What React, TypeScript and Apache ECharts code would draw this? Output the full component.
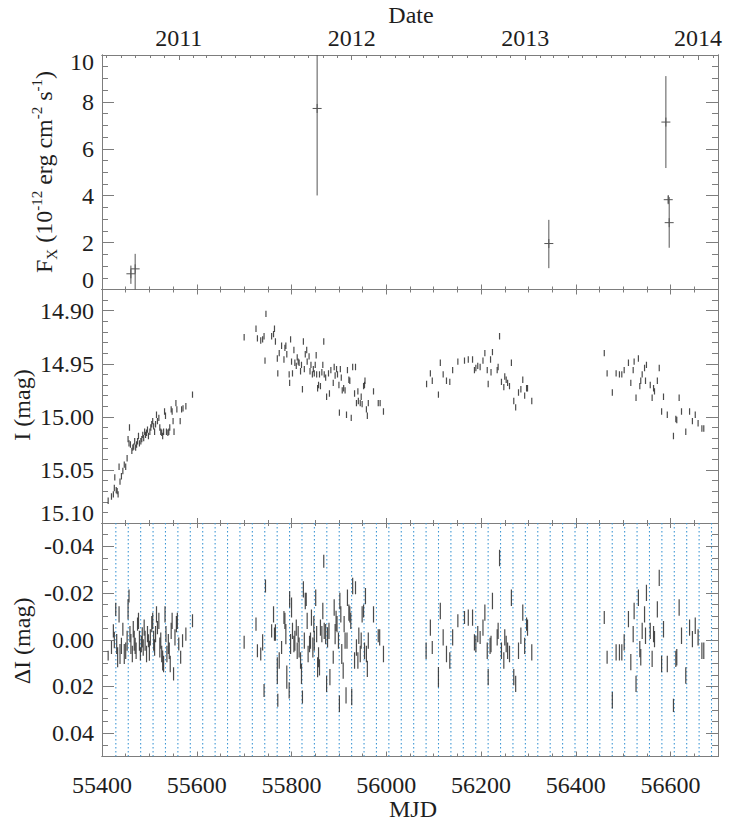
import React, { useEffect, useRef } from "react";
import * as echarts from "echarts";

// ---------- axes / ticks ----------
const MJD_MIN = 55400;
const MJD_MAX = 56700;
const X_MAJOR = [55400, 55600, 55800, 56000, 56200, 56400, 56600];
const X_MINOR_STEP = 50;
const YEAR_LABELS = ["2011", "2012", "2013", "2014"];
const YEAR_MJD = [55562, 55927, 56293, 56658];

const FX_MAJOR = [0, 2, 4, 6, 8, 10];
const I_MAJOR = [14.9, 14.95, 15.0, 15.05, 15.1];
const DI_MAJOR = [-0.04, -0.02, 0, 0.02, 0.04];

// ---------- X-ray flux (10^-12 erg cm^-2 s^-1) ----------
const XRAY_MJD = [55461, 55470, 55854, 56343, 56590, 56595, 56597];
const XRAY_FX = [0.67, 0.88, 7.72, 1.96, 7.14, 3.83, 2.85];
const XRAY_LO = [0.24, -0.17, 4.01, 0.91, 5.18, 3.67, 1.78];
const XRAY_HI = [1.02, 1.52, 11.5, 2.97, 9.1, 4.0, 3.94];

// ---------- I-band light curve [MJD, I mag] ----------
const I_ERR = 0.003;
const I_2010: [number, number][] = [
  [55413, 15.079], [55420, 15.075], [55424, 15.073], [55426, 15.067], [55427, 15.057], [55430, 15.069],
  [55432, 15.07], [55434, 15.073], [55436, 15.047], [55438, 15.061], [55441, 15.056], [55444, 15.051],
  [55447, 15.045], [55450, 15.047], [55453, 15.039], [55455, 15.021], [55457, 15.025], [55458, 15.01],
  [55460, 15.026], [55463, 15.032], [55465, 15.029], [55467, 15.028], [55469, 15.023], [55471, 15.029],
  [55473, 15.026], [55475, 15.023], [55477, 15.018], [55479, 15.025], [55482, 15.023], [55484, 15.021],
  [55486, 15.017], [55488, 15.02], [55490, 15.014], [55492, 15.017], [55494, 15.015], [55496, 15.012],
  [55498, 15.018], [55501, 15.014], [55503, 15.01], [55505, 15.007], [55507, 15.004], [55509, 15.009],
  [55511, 15.014], [55513, 15.007], [55515, 14.998], [55517, 15.004], [55520, 15.001], [55522, 15.01],
  [55524, 15.014], [55526, 15.015], [55528, 15.018], [55530, 15.014], [55532, 14.995], [55534, 14.999],
  [55536, 15.014], [55539, 15.015], [55541, 15.014], [55543, 15.01], [55546, 14.993], [55548, 14.995],
  [55550, 15.004], [55552, 15.014], [55556, 14.987], [55558, 14.993], [55565, 15.004], [55568, 14.993],
  [55571, 14.992], [55577, 14.99], [55591, 14.979],
];
const I_2011: [number, number][] = [
  [55700, 14.925], [55725, 14.917], [55728, 14.926], [55735, 14.928], [55739, 14.927], [55742, 14.924],
  [55744, 14.947], [55746, 14.903], [55758, 14.924], [55762, 14.922], [55764, 14.917], [55766, 14.929],
  [55770, 14.945], [55771, 14.959], [55774, 14.94], [55779, 14.933], [55784, 14.946], [55786, 14.935],
  [55788, 14.933], [55790, 14.941], [55795, 14.96], [55796, 14.968], [55798, 14.927], [55800, 14.948],
  [55802, 14.959], [55805, 14.937], [55807, 14.949], [55810, 14.952], [55812, 14.944], [55814, 14.948],
  [55816, 14.949], [55819, 14.957], [55821, 14.951], [55823, 14.974], [55825, 14.929], [55827, 14.955],
  [55829, 14.941], [55832, 14.937], [55833, 14.948], [55837, 14.943], [55839, 14.957], [55841, 14.951],
  [55844, 14.96], [55846, 14.955], [55848, 14.959], [55850, 14.951], [55852, 14.942], [55853, 14.96],
  [55855, 14.973], [55857, 14.97], [55859, 14.96], [55861, 14.971], [55864, 14.958], [55866, 14.951],
  [55868, 14.929], [55869, 14.96], [55872, 14.963], [55874, 14.981], [55878, 14.959], [55880, 14.978],
  [55883, 14.956], [55888, 14.968], [55890, 14.953], [55892, 14.961], [55895, 14.955], [55897, 14.96],
  [55900, 14.97], [55901, 14.996], [55903, 14.955], [55905, 14.963], [55907, 14.975], [55910, 14.973],
  [55913, 14.975], [55916, 14.998], [55918, 14.956], [55921, 14.965], [55923, 14.966], [55926, 15.001],
  [55929, 14.953], [55933, 14.978], [55935, 14.953], [55937, 14.987], [55940, 14.976], [55941, 14.985],
  [55945, 14.987], [55947, 14.981], [55949, 14.988], [55952, 14.971], [55954, 14.97], [55955, 14.966],
  [55958, 14.993], [55960, 14.999], [55962, 14.987], [55973, 14.976], [55983, 14.987], [55987, 14.987],
  [55994, 14.995],
];
const I_2012: [number, number][] = [
  [56085, 14.969], [56093, 14.959], [56097, 14.966], [56110, 14.979], [56114, 14.949], [56120, 14.96],
  [56127, 14.966], [56134, 14.967], [56140, 14.956], [56151, 14.948], [56165, 14.947], [56173, 14.946],
  [56182, 14.946], [56186, 14.956], [56189, 14.954], [56193, 14.952], [56198, 14.953], [56204, 14.947],
  [56208, 14.94], [56213, 14.956], [56215, 14.969], [56220, 14.946], [56221, 14.958], [56224, 14.939],
  [56234, 14.956], [56236, 14.953], [56239, 14.924], [56243, 14.967], [56248, 14.972], [56250, 14.962],
  [56253, 14.965], [56256, 14.968], [56260, 14.971], [56264, 14.949], [56269, 14.985], [56273, 14.991],
  [56279, 14.977], [56284, 14.974], [56288, 14.965], [56292, 14.98], [56296, 14.973], [56298, 14.973],
  [56307, 14.985],
];
const I_2013: [number, number][] = [
  [56460, 14.94], [56466, 14.959], [56477, 14.977], [56485, 14.959], [56492, 14.96], [56497, 14.96],
  [56502, 14.956], [56511, 14.949], [56516, 14.968], [56521, 14.956], [56523, 14.948], [56527, 14.982],
  [56532, 14.945], [56535, 14.971], [56537, 14.966], [56540, 14.96], [56545, 14.954], [56547, 14.966],
  [56549, 14.951], [56557, 14.97], [56561, 14.982], [56564, 14.973], [56566, 14.976], [56572, 14.966],
  [56576, 14.954], [56581, 14.995], [56585, 14.981], [56593, 14.998], [56606, 15.018], [56611, 15.002],
  [56613, 15.003], [56618, 14.982], [56623, 14.995], [56632, 15.014], [56640, 14.995], [56646, 15.004],
  [56652, 14.998], [56658, 15.006], [56666, 15.011], [56670, 15.011],
];

// ---------- detrended residuals [MJD, dI, err] ----------
const DI_2010: [number, number, number][] = [
  [55413, 0.0068, 0.0021], [55420, 0.0033, 0.0028], [55424, -0.0038, 0.0028], [55426, 0.0001, 0.0035],
  [55429, -0.013, 0.0028], [55431, 0.0018, 0.0043], [55433, 0.0075, 0.0043], [55436, -0.0109, 0.0035],
  [55438, 0.0061, 0.0043], [55441, 0.0026, 0.0035], [55444, -0.0045, 0.0028], [55447, 0.0061, 0.0043],
  [55450, 0.0047, 0.0035], [55453, 0.0004, 0.0043], [55455, -0.013, 0.0043], [55457, -0.0187, 0.0028],
  [55459, -0.0024, 0.0035], [55461, 0.0018, 0.0043], [55464, 0.0061, 0.0035], [55466, -0.0045, 0.0035],
  [55468, 0.0004, 0.0043], [55470, 0.0026, 0.0035], [55472, 0.0047, 0.0035], [55475, -0.0067, 0.0028],
  [55477, -0.0081, 0.0035], [55479, 0.0004, 0.0043], [55481, 0.0061, 0.0028], [55483, 0.0018, 0.0035],
  [55485, -0.001, 0.0043], [55487, 0.0033, 0.0035], [55489, -0.0052, 0.0035], [55491, 0.0004, 0.0043],
  [55494, 0.0061, 0.0035], [55496, -0.0024, 0.0035], [55498, 0.0004, 0.0028], [55500, 0.0047, 0.0043],
  [55502, -0.001, 0.0035], [55505, -0.0067, 0.0035], [55507, -0.0081, 0.0035], [55509, 0.0004, 0.0043],
  [55511, 0.0033, 0.0035], [55513, -0.0024, 0.0035], [55515, -0.0109, 0.0035], [55517, -0.0052, 0.0028],
  [55520, -0.0081, 0.0035], [55522, 0.0033, 0.0043], [55524, 0.0004, 0.0035], [55526, 0.0061, 0.0035],
  [55528, 0.0089, 0.0043], [55530, 0.0104, 0.0035], [55533, -0.0109, 0.0035], [55535, -0.0024, 0.0035],
  [55537, 0.0061, 0.0035], [55540, 0.0018, 0.0043], [55542, 0.0047, 0.0035], [55544, 0.0104, 0.0035],
  [55546, -0.0038, 0.0035], [55548, -0.0081, 0.0035], [55551, 0.0146, 0.0028], [55554, -0.001, 0.0035],
  [55557, -0.0067, 0.0035], [55559, -0.0081, 0.0035], [55562, 0.0018, 0.0028], [55566, 0.0075, 0.0028],
  [55570, 0.0004, 0.0028], [55577, -0.0024, 0.0028], [55591, -0.0081, 0.0028],
];
const DI_2011: [number, number, number][] = [
  [55700, 0.0011, 0.0028], [55725, -0.0067, 0.0028], [55728, 0.0047, 0.0028], [55735, 0.0061, 0.0028],
  [55739, 0.0011, 0.0035], [55742, 0.0217, 0.0028], [55745, -0.023, 0.0028], [55758, -0.0038, 0.0028],
  [55762, -0.0109, 0.0035], [55764, -0.0024, 0.0028], [55766, -0.0031, 0.0035], [55770, 0.0132, 0.0057],
  [55771, 0.0259, 0.0028], [55774, 0.0089, 0.0035], [55779, 0.0033, 0.0028], [55784, -0.0095, 0.0028],
  [55786, -0.0081, 0.0035], [55788, -0.0024, 0.0043], [55790, 0.016, 0.005], [55795, 0.0217, 0.0035],
  [55796, -0.0173, 0.0035], [55798, 0.0018, 0.0043], [55800, -0.0138, 0.0043], [55802, -0.0038, 0.0035],
  [55805, 0.0018, 0.0035], [55807, 0.0004, 0.0043], [55810, -0.0052, 0.0035], [55812, 0.0047, 0.0035],
  [55814, -0.0024, 0.0035], [55816, 0.0033, 0.0043], [55819, 0.0089, 0.0035], [55821, 0.0146, 0.0043],
  [55823, 0.0245, 0.0028], [55825, -0.0216, 0.0035], [55827, 0.0004, 0.0035], [55829, -0.0166, 0.0035],
  [55831, -0.0173, 0.0028], [55833, -0.0081, 0.0035], [55835, 0.0061, 0.0035], [55838, 0.0018, 0.0035],
  [55840, 0.0004, 0.0035], [55842, -0.0095, 0.0035], [55845, 0.0033, 0.0043], [55847, -0.0067, 0.0035],
  [55848, 0.0004, 0.0043], [55851, -0.018, 0.0035], [55853, -0.0024, 0.0035], [55855, 0.0118, 0.0043],
  [55857, 0.0075, 0.0043], [55859, 0.0118, 0.0035], [55861, -0.0052, 0.0035], [55864, -0.0024, 0.0035],
  [55866, -0.0123, 0.0035], [55868, -0.0336, 0.0028], [55869, -0.0038, 0.0035], [55872, -0.0024, 0.0043],
  [55874, 0.0189, 0.0035], [55876, -0.001, 0.0043], [55879, -0.0038, 0.0035], [55881, 0.016, 0.0035],
  [55888, 0.0075, 0.0028], [55890, -0.0138, 0.0035], [55892, -0.0024, 0.0043], [55894, -0.0081, 0.0043],
  [55896, -0.0067, 0.0035], [55899, 0.0004, 0.0035], [55901, 0.0274, 0.0035], [55902, -0.0166, 0.0035],
  [55904, -0.0109, 0.0035], [55906, 0.0061, 0.0043], [55909, 0.0132, 0.0035], [55911, -0.0067, 0.0035],
  [55913, 0.0004, 0.0035], [55915, 0.0238, 0.0035], [55917, 0.0004, 0.0035], [55918, -0.018, 0.0035],
  [55921, -0.0116, 0.0035], [55923, -0.0109, 0.0035], [55925, -0.0081, 0.0035], [55927, 0.0245, 0.0035],
  [55929, -0.023, 0.0035], [55933, 0.0089, 0.0035], [55935, -0.0223, 0.0028], [55937, 0.0033, 0.0035],
  [55940, 0.0089, 0.0035], [55942, -0.0017, 0.0035], [55945, 0.0061, 0.0035], [55947, 0.0004, 0.0035],
  [55949, -0.0109, 0.0035], [55952, -0.0123, 0.0028], [55954, 0.0047, 0.0035], [55956, -0.0187, 0.0035],
  [55958, 0.0061, 0.0035], [55960, 0.0125, 0.0035], [55962, 0.0004, 0.0035], [55973, -0.0109, 0.0035],
  [55983, -0.0017, 0.0028], [55986, -0.001, 0.0035], [55994, 0.0061, 0.0035],
];
const DI_2012: [number, number, number][] = [
  [56084, 0.0047, 0.0035], [56093, -0.0052, 0.0035], [56097, 0.0033, 0.0028], [56110, 0.016, 0.0043],
  [56114, -0.0123, 0.0035], [56120, -0.001, 0.0035], [56127, 0.0061, 0.0035], [56134, 0.0089, 0.0035],
  [56140, -0.001, 0.0035], [56151, -0.0081, 0.0028], [56165, -0.0095, 0.0028], [56173, -0.0095, 0.0035],
  [56182, -0.0095, 0.0035], [56186, 0.0011, 0.0035], [56189, 0.0018, 0.0035], [56193, -0.0024, 0.0035],
  [56198, -0.001, 0.0028], [56204, -0.0052, 0.0035], [56208, -0.0116, 0.0035], [56213, 0.0047, 0.0035],
  [56215, 0.016, 0.0035], [56219, 0.0026, 0.0035], [56221, 0.0018, 0.0035], [56224, -0.0166, 0.0035],
  [56234, -0.001, 0.0035], [56236, -0.0038, 0.0035], [56239, -0.035, 0.0035], [56243, 0.0047, 0.0035],
  [56248, 0.0089, 0.0035], [56250, -0.001, 0.0035], [56253, 0.0018, 0.0035], [56256, 0.0047, 0.0035],
  [56260, 0.0061, 0.0035], [56264, -0.018, 0.0035], [56269, 0.016, 0.0035], [56273, 0.0189, 0.0035],
  [56279, 0.0047, 0.0035], [56284, -0.0017, 0.0035], [56288, -0.0116, 0.0035], [56292, 0.0026, 0.0035],
  [56296, -0.0067, 0.0028], [56298, -0.0052, 0.0035], [56307, 0.0054, 0.0035],
];
const DI_2013: [number, number, number][] = [
  [56460, -0.0095, 0.0028], [56466, 0.0075, 0.0028], [56477, 0.0259, 0.0035], [56485, 0.0054, 0.0035],
  [56492, 0.0054, 0.0035], [56497, 0.0054, 0.0035], [56502, 0.0011, 0.0035], [56511, -0.0088, 0.0035],
  [56516, 0.0096, 0.0035], [56521, -0.0024, 0.0035], [56523, -0.0123, 0.0035], [56527, 0.0189, 0.0035],
  [56532, -0.018, 0.0035], [56535, 0.004, 0.0035], [56537, 0.0075, 0.0035], [56540, -0.0038, 0.0035],
  [56545, -0.0109, 0.0035], [56547, -0.0017, 0.0035], [56549, -0.0201, 0.0035], [56557, -0.0038, 0.0035],
  [56561, 0.0082, 0.0035], [56564, -0.0024, 0.0035], [56566, -0.0003, 0.0035], [56572, -0.013, 0.0035],
  [56576, -0.0265, 0.0035], [56581, 0.0104, 0.0035], [56585, -0.0045, 0.0035], [56593, 0.0104, 0.0035],
  [56606, 0.0281, 0.0028], [56611, 0.0082, 0.0035], [56613, 0.0075, 0.0035], [56618, -0.0138, 0.0035],
  [56623, -0.0017, 0.0035], [56632, 0.0153, 0.0035], [56640, -0.0052, 0.0035], [56646, -0.0003, 0.0035],
  [56652, -0.006, 0.0035], [56658, -0.001, 0.0035], [56666, 0.0047, 0.0035], [56670, 0.0047, 0.0035],
];

// orbital-phase reference epochs (dotted lines)
const ORBIT_T0 = 55429.2;
const ORBIT_P = 26.19;
const N_EPOCHS = 49;

// ---------- styling ----------
const FONT = "'Liberation Serif', 'Times New Roman', 'DejaVu Serif', serif";
const AX = "#7d7d7d";
const TXT = "#1e1e1e";
const FS = 24;

function steps(a: number, b: number, step: number): number[] {
  const n = Math.round((b - a) / step);
  const out: number[] = [];
  for (let i = 0; i <= n; i++) out.push(+(a + i * step).toFixed(6));
  return out;
}
function monthStarts(): number[] {
  const out: number[] = [];
  for (let y = 2010; y <= 2014; y++)
    for (let m = 0; m < 12; m++) {
      const mjd = Date.UTC(y, m, 1) / 86400000 + 40587;
      if (mjd > MJD_MIN && mjd < MJD_MAX) out.push(mjd);
    }
  return out;
}

function buildOption() {
  const xAxis: any[] = [];
  const yAxis: any[] = [];
  const lbl = (vals: number[], fmt: any, margin: number, rich?: any) => ({
    show: true,
    customValues: vals,
    formatter: fmt,
    fontSize: FS,
    fontFamily: FONT,
    color: TXT,
    margin,
    ...(rich ? { rich } : {}),
  });
  const axis = (grid: number, position: string, min: number, max: number, ticks: number[], len: number, extra: any = {}) => ({
    type: "value",
    gridIndex: grid,
    position,
    min,
    max,
    axisLine: { show: true, onZero: false, lineStyle: { color: AX, width: 1 } },
    axisTick: { show: true, inside: true, length: len, customValues: ticks, lineStyle: { color: AX, width: 1 } },
    axisLabel: { show: false },
    splitLine: { show: false },
    ...extra,
  });
  const xMinor = steps(MJD_MIN, MJD_MAX, X_MINOR_STEP);
  const months = monthStarts();

  const xMain: number[] = [];
  for (let g = 0; g < 3; g++) {
    xMain.push(xAxis.length);
    xAxis.push(
      axis(g, "bottom", MJD_MIN, MJD_MAX, X_MAJOR, 5,
        g === 2 ? { axisLabel: lbl(X_MAJOR, (v: number) => String(v), 16) } : {})
    );
    xAxis.push(axis(g, "bottom", MJD_MIN, MJD_MAX, xMinor, 3));
    if (g === 0) {
      xAxis.push(
        axis(g, "top", MJD_MIN, MJD_MAX, YEAR_MJD, 5, {
          axisLabel: lbl(YEAR_MJD, (v: number) => YEAR_LABELS[YEAR_MJD.indexOf(Math.round(v))] || "", 5),
        })
      );
      xAxis.push(axis(g, "top", MJD_MIN, MJD_MAX, months, 3));
    } else {
      xAxis.push(axis(g, "top", MJD_MIN, MJD_MAX, X_MAJOR, 5));
      xAxis.push(axis(g, "top", MJD_MIN, MJD_MAX, xMinor, 3));
    }
  }

  const richBase = { fontSize: FS, fontFamily: FONT, color: TXT };
  const rich = {
    n: { ...richBase },
    d: { ...richBase, padding: [14, 0, 0, 0] },
    u: { ...richBase, padding: [0, 0, 20, 0] },
  };
  const panels = [
    {
      min: 0, max: 10, inverse: false, major: FX_MAJOR, minor: steps(0, 10, 0.5),
      fmt: (v: number) => (v === 10 ? "{d|10}" : v === 0 ? "{u|0}" : "{n|" + v + "}"),
    },
    {
      min: 14.88, max: 15.1, inverse: true, major: I_MAJOR, minor: steps(14.88, 15.1, 0.01),
      fmt: (v: number) => (Math.abs(v - 15.1) < 1e-6 ? "{u|15.10}" : "{n|" + v.toFixed(2) + "}"),
    },
    {
      min: -0.05, max: 0.05, inverse: true, major: DI_MAJOR, minor: steps(-0.05, 0.05, 0.005),
      fmt: (v: number) => "{n|" + (Math.abs(v) < 1e-9 ? "0.00" : v.toFixed(2)) + "}",
    },
  ];
  const yMain: number[] = [];
  panels.forEach((p, g) => {
    yMain.push(yAxis.length);
    yAxis.push(axis(g, "left", p.min, p.max, p.major, 12, { inverse: p.inverse, axisLabel: lbl(p.major, p.fmt, 8, rich) }));
    yAxis.push(axis(g, "left", p.min, p.max, p.minor, 6, { inverse: p.inverse }));
    yAxis.push(axis(g, "right", p.min, p.max, p.major, 12, { inverse: p.inverse }));
    yAxis.push(axis(g, "right", p.min, p.max, p.minor, 6, { inverse: p.inverse }));
  });

  const errSeries = (g: number, data: number[][], color: string, width: number, cap: number, opacity = 1) => ({
    type: "custom",
    xAxisIndex: xMain[g],
    yAxisIndex: yMain[g],
    clip: true,
    silent: true,
    data,
    encode: { x: 0, y: 1 },
    renderItem: (params: any, api: any) => {
      const x = api.value(0);
      const v = api.value(1);
      const p0 = api.coord([x, api.value(2)]);
      const p1 = api.coord([x, api.value(3)]);
      const pc = api.coord([x, v]);
      const st = { stroke: color, lineWidth: width, opacity };
      const children: any[] = [
        { type: "line", shape: { x1: p0[0], y1: p0[1], x2: p1[0], y2: p1[1] }, style: st },
      ];
      if (cap > 0) {
        children.push({ type: "line", shape: { x1: pc[0] - cap, y1: pc[1], x2: pc[0] + cap, y2: pc[1] }, style: st });
        children.push({ type: "line", shape: { x1: pc[0], y1: pc[1] - cap, x2: pc[0], y2: pc[1] + cap }, style: st });
      }
      return { type: "group", children };
    },
  });

  const xrayData = XRAY_MJD.map((t, i) => [t, XRAY_FX[i], XRAY_LO[i], XRAY_HI[i]]);
  const iData = [...I_2010, ...I_2011, ...I_2012, ...I_2013].map(([t, m]) => [t, m, m - I_ERR, m + I_ERR]);
  const dData = [...DI_2010, ...DI_2011, ...DI_2012, ...DI_2013].map(([t, d, e]) => [t, d, d - e, d + e]);
  const epochs = Array.from({ length: N_EPOCHS }, (_, k) => [ORBIT_T0 + k * ORBIT_P, 0]);

  const epochSeries = {
    type: "custom",
    xAxisIndex: xMain[2],
    yAxisIndex: yMain[2],
    clip: true,
    silent: true,
    data: epochs,
    encode: { x: 0, y: 1 },
    renderItem: (params: any, api: any) => {
      const t = api.value(0);
      const a = api.coord([t, -0.05]);
      const b = api.coord([t, 0.05]);
      return {
        type: "line",
        shape: { x1: a[0], y1: a[1], x2: b[0], y2: b[1] },
        style: { stroke: "#3f97d4", lineWidth: 1.1, lineDash: [1.5, 2.5] },
      };
    },
  };

  const txt = (x: number, y: number, text: string, rot = 0, extra: any = {}) => ({
    type: "text",
    x,
    y,
    rotation: rot,
    style: { text, fontSize: FS, fontFamily: FONT, fill: TXT, align: "center", verticalAlign: "middle", ...extra },
  });

  return {
    animation: false,
    backgroundColor: "#ffffff",
    textStyle: { fontFamily: FONT },
    grid: [
      { left: 102, top: 55, width: 616, height: 234.5, containLabel: false, outerBoundsMode: "none" },
      { left: 102, top: 289.5, width: 616, height: 233.5, containLabel: false, outerBoundsMode: "none" },
      { left: 102, top: 523, width: 616, height: 233.5, containLabel: false, outerBoundsMode: "none" },
    ],
    xAxis,
    yAxis,
    series: [
      errSeries(0, xrayData, "#555555", 1, 4.5),
      errSeries(1, iData, "#2b2b2b", 1.2, 0, 0.85),
      epochSeries,
      errSeries(2, dData, "#2b2b2b", 1.2, 0, 0.85),
    ],
    graphic: [
      txt(411, 15, "Date"),
      txt(413, 809, "MJD"),
      txt(22, 405, "I (mag)", Math.PI / 2),
      txt(22, 641, "\u0394I (mag)", Math.PI / 2),
      txt(44, 172, "{a|F}{sub|X}{a| (10}{sup|-12}{a| erg cm}{sup|-2}{a| s}{sup|-1}{a|)}", Math.PI / 2, {
        rich: {
          a: { fontSize: FS, fontFamily: FONT, fill: TXT, lineHeight: 30 },
          sup: { fontSize: 15, fontFamily: FONT, fill: TXT, verticalAlign: "top", lineHeight: 16 },
          sub: { fontSize: 15, fontFamily: FONT, fill: TXT, verticalAlign: "bottom", lineHeight: 16 },
        },
      }),
    ],
  };
}

export default function App() {
  const ref = useRef<HTMLDivElement>(null);
  useEffect(() => {
    if (!ref.current) return;
    const chart = echarts.init(ref.current, undefined, { renderer: "svg" });
    chart.setOption(buildOption() as any);
    return () => chart.dispose();
  }, []);
  return (
    <div
      ref={ref}
      style={{ position: "fixed", left: 0, top: 0, width: 729, height: 827, background: "#fff" }}
    />
  );
}
